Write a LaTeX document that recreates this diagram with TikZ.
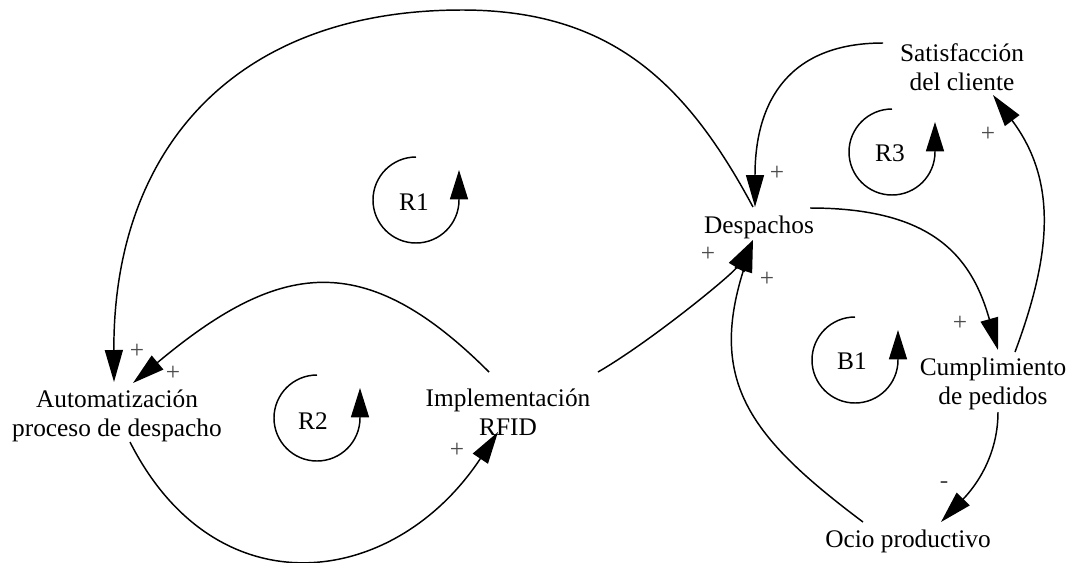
\documentclass[tikz,border=0pt]{standalone}
\usepackage{fontspec}
\setmainfont{Liberation Serif}
\usetikzlibrary{arrows.meta}
\begin{document}
\begin{tikzpicture}[x=0.75pt,y=0.75pt,
  var/.style={font=\fontsize{19}{21.5}\selectfont, align=center, inner sep=0pt, anchor=north},
  link/.style={line width=1.1pt, -{Triangle[length=24pt,width=13.5pt]}},
  sgn/.style={font=\fontsize{19}{21.5}\selectfont, text=black!70, inner sep=0pt},
  looplbl/.style={font=\fontsize{19}{21.5}\selectfont, inner sep=0pt},
  loopline/.style={line width=1.1pt, -{Triangle[length=22pt,width=13.5pt]}}]
\useasboundingbox (0,0) rectangle (1076,-562);

% variables
\node[var] (auto) at (117,-387) {\strut Automatización\\\strut proceso de despacho};
\node[var] (impl) at (508,-386) {\strut Implementación\\\strut RFID};
\node[var] (desp) at (759,-213) {\strut Despachos};
\node[var] (sat)  at (962,-41)  {\strut Satisfacción\\\strut del cliente};
\node[var] (cump) at (993,-355) {\strut Cumplimiento\\\strut de pedidos};
\node[var] (ocio) at (908,-527) {\strut Ocio productivo};

% links
\draw[link] ([shift={(-6,6)}]desp.north) .. controls (687,-84) and (612,-10) .. (462,-10)
            .. controls (232,-10) and (113,-152) .. ([shift={(-3,5)}]auto.north);
\draw[link] ([shift={(-19,14)}]impl.north) .. controls (364,-247) and (279,-261) .. ([shift={(16,4)}]auto.north);
\draw[link] ([shift={(13,-55)}]auto.north) .. controls (215.5,-611) and (393.5,-589.7) .. ([shift={(-10,-46)}]impl.north);
\draw[link] ([shift={(90,14)}]impl.north) .. controls (650,-342) and (732.6,-274.4) .. ([shift={(-6,-27)}]desp.north);
\draw[link] ([shift={(-45,5)}]ocio.north) .. controls (751,-438) and (708,-382.5) .. ([shift={(-6,-27)}]desp.north);
\draw[link] ([shift={(51,5)}]desp.north) .. controls (930,-208) and (971,-254) .. ([shift={(5,5)}]cump.north);
\draw[link] ([shift={(22,3)}]cump.north) .. controls (1050,-258) and (1059,-183) .. ([shift={(31,-54)}]sat.north);
\draw[link] ([shift={(-79,-2)}]sat.north) .. controls (790,-43) and (755,-100) .. ([shift={(-4,6)}]desp.north);
\draw[link] ([shift={(5,-57)}]cump.north) .. controls (998,-462) and (969,-493) .. ([shift={(33,5)}]ocio.north);

% polarities
\node[sgn] (sA) at (137,-351) {+};
\node[sgn] (sB) at (173,-373) {+};
\node[sgn] (sC) at (457,-450) {+};
\node[sgn] (sD) at (708,-254) {+};
\node[sgn] (sE) at (767,-279) {+};
\node[sgn] (sH) at (777,-173) {+};
\node[sgn] (sG) at (988,-134) {+};
\node[sgn] (sF) at (960,-323) {+};
\node[sgn] (sI) at (944,-485) {-};

% loop markers
\draw[loopline] (416,-157) arc[start angle=90,end angle=360,radius=32.25pt] -- ++(0,30);
\draw[loopline] (317,-375) arc[start angle=90,end angle=360,radius=32.25pt] -- ++(0,30);
\draw[loopline] (892,-109) arc[start angle=90,end angle=360,radius=32.25pt] -- ++(0,30);
\draw[loopline] (855,-317) arc[start angle=90,end angle=360,radius=32.25pt] -- ++(0,30);
\node[looplbl] (r1) at (414,-202) {R1};
\node[looplbl] (r2) at (313,-421) {R2};
\node[looplbl] (r3) at (890,-153) {R3};
\node[looplbl] (b1) at (852,-361) {B1};
\end{tikzpicture}
\end{document}
